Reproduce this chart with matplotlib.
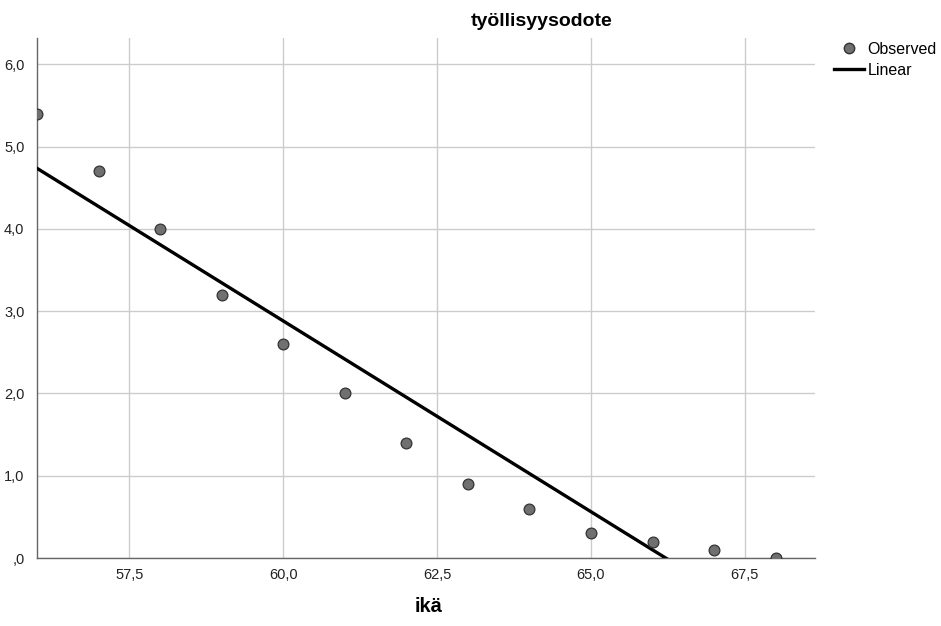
import numpy as np
import matplotlib
matplotlib.use("Agg")
import matplotlib.pyplot as plt
from matplotlib.lines import Line2D
from matplotlib.ticker import FuncFormatter

plt.rcParams['font.family'] = ['Liberation Sans', 'DejaVu Sans']

age = [56, 57, 58, 59, 60, 61, 62, 63, 64, 65, 66, 67, 68]
observed = [5.4, 4.7, 4.0, 3.2, 2.6, 2.0, 1.4, 0.9, 0.6, 0.3, 0.2, 0.1, 0.0]
x_ticks = [57.5, 60.0, 62.5, 65.0, 67.5]
y_ticks = [0, 1, 2, 3, 4, 5, 6]

W, H = 941, 626
fig = plt.figure(figsize=(W/100, H/100), dpi=100)
ax = fig.add_axes([37/W, 1-558/H, (815-37)/W, (558-38)/H])

slope, intercept = np.polyfit(age, observed, 1)
xl = np.array([56.0, 68.64])
ax.plot(xl, slope*xl + intercept, color='black', lw=2.4, zorder=3)
ax.scatter(age, observed, s=60, color='#707070', edgecolor='#333333', linewidth=0.9, zorder=4)

ax.set_xlim(56.0, 68.64)
ax.set_ylim(0, 6.32)
ax.set_xticks(x_ticks)
ax.set_yticks(y_ticks)

def fmt(v, p):
    s = f"{v:.1f}".replace('.', ',')
    if s.startswith('0,'):
        s = s[1:]
    return s
ax.xaxis.set_major_formatter(FuncFormatter(fmt))
ax.yaxis.set_major_formatter(FuncFormatter(fmt))
ax.tick_params(length=0, labelsize=10.5, colors='#222222')
ax.tick_params(axis='x', pad=7)
ax.tick_params(axis='y', pad=9)
ax.grid(True, color='#cccccc', lw=1.0)
ax.set_axisbelow(True)
for s in ['top', 'right']:
    ax.spines[s].set_visible(False)
for s in ['left', 'bottom']:
    ax.spines[s].set_color('#666666')
    ax.spines[s].set_linewidth(1.0)

fig.text(429/W, 1-607/H, 'ikä', ha='center', va='center', fontsize=14.5, fontweight='bold')
fig.text(542/W, 1-22/H, 'työllisyysodote', ha='center', va='center', fontsize=14, fontweight='bold')

handles = [Line2D([], [], marker='o', ls='none', markersize=7.5, markerfacecolor='#707070', markeredgecolor='#333333'),
           Line2D([], [], color='black', lw=2.4)]
fig.legend(handles, ['Observed', 'Linear'], loc='upper left', bbox_to_anchor=(834/W, 1-42/H),
           frameon=False, fontsize=11.5, handlelength=1.9, handletextpad=0.2, labelspacing=0.38, borderpad=0,
           borderaxespad=0)

fig.savefig('out.png', dpi=100)
